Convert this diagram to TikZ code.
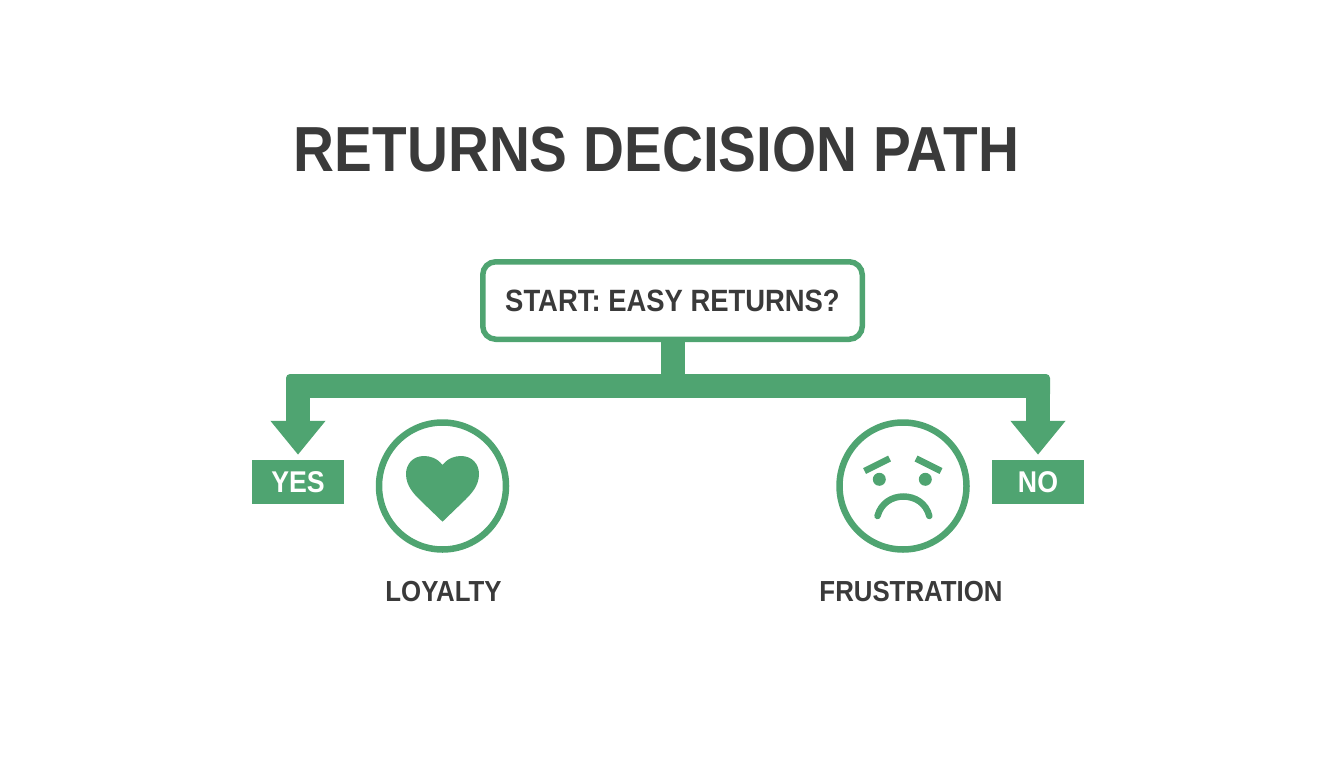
\documentclass[tikz,border=0pt]{standalone}
\usepackage{fontspec}
\setmainfont[FakeStretch = 0.89]{Liberation Sans}
\usetikzlibrary{arrows.meta}
\definecolor{leaf}{HTML}{4FA471}
\definecolor{ink}{HTML}{3A3A3A}
\tikzset{
	title/.style = {text = ink, font = \fontsize{63.7}{63.7}\selectfont\bfseries},
	startbox/.style = {draw = leaf, line width = 5.5pt, rounded corners = 13pt, fill = white, text = ink, minimum width = 379.5pt, minimum height = 77.5pt, font = \fontsize{30.8}{30.8}\selectfont\bfseries},
	tagbox/.style = {fill = leaf, text = white, minimum width = 92pt, minimum height = 44.5pt, inner sep = 0pt, outer sep = 0pt, font = \fontsize{30}{30}\selectfont\bfseries},
	facering/.style = {draw = leaf, line width = 6.5pt, circle, minimum size = 127pt, inner sep = 0pt},
	caption/.style = {text = ink, font = \fontsize{29}{29}\selectfont\bfseries},
	branch/.style = {draw = leaf, line width = 24pt, line join = bevel},
	stroke/.style = {draw = leaf, line width = 6.5pt}
}
\begin{document}
\begin{tikzpicture}[x = 1pt, y = -1pt]
	\useasboundingbox (0, 0) rectangle (1344, 768) ;
	\node [title] (heading) at (656.5, 150) {RETURNS DECISION PATH} ;
	\node [startbox] (start) at (672.5, 300.5) {START: EASY RETURNS?} ;
	\node [tagbox] (yes) at (298, 482) {YES} ;
	\node [tagbox] (no) at (1038, 482) {NO} ;
	\node [facering] (love) at (442.5, 486) {} ;
	\node [facering] (sad) at (903, 486) {} ;
	\node [caption] (loyalty) at (443.5, 592) {LOYALTY} ;
	\node [caption] (frustration) at (911, 592) {FRUSTRATION} ;
	\coordinate (fork) at (673, 386) ;
	% Branches
	\draw [branch] (start.south -| fork) -- (fork) ;
	\foreach \target in {yes, no}{
		\draw [branch, shorten > = 5pt, -{Triangle[length = 34pt, width = 53pt]}] (fork) -| (\target.north) ;
	}
	\foreach \x in {298, 1038}{
		\fill [leaf, rounded corners = 4pt] (\x-12, 374) rectangle (\x+12, 398) ;
	}
	% Heart
	\fill [leaf] (442.5, 465) .. controls (437, 458) and (430, 456) .. (424, 456)
		.. controls (413, 456) and (406, 464) .. (406, 474)
		.. controls (406, 486) and (414, 494) .. (420, 500)
		-- (442.5, 521.7) -- (465, 500)
		.. controls (471, 494) and (479, 486) .. (479, 474)
		.. controls (479, 464) and (472, 456) .. (461, 456)
		.. controls (455, 456) and (448, 458) .. (442.5, 465) -- cycle ;
	% Face
	\fill [leaf] (879.3, 479.3) circle [radius = 6.5] ;
	\fill [leaf] (925.3, 479.3) circle [radius = 6.5] ;
	\draw [stroke] (864.5, 471) -- (889.5, 458.5) ;
	\draw [stroke] (916, 458.5) -- (941, 471) ;
	\draw [stroke, line cap = round] (877.5, 516) .. controls (881, 503) and (892, 496.5) .. (903.3, 496.5)
		.. controls (915, 496.5) and (926, 503) .. (929.3, 516) ;
\end{tikzpicture}
\end{document}
